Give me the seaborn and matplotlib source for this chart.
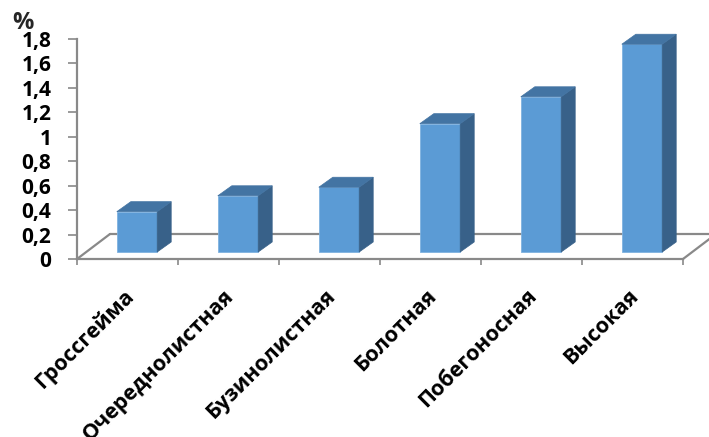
import matplotlib
matplotlib.use("Agg")
import matplotlib.pyplot as plt
from matplotlib.patches import Polygon
from matplotlib.lines import Line2D
from matplotlib.transforms import IdentityTransform, offset_copy, ScaledTranslation
import numpy as np
import pandas as pd
import seaborn as sns

categories = ["Гроссгейма", "Очереднолистная", "Бузинолистная", "Болотная", "Побегоносная", "Высокая"]
values = [0.33, 0.46, 0.53, 1.05, 1.27, 1.70]
y_ticks = [0, 0.2, 0.4, 0.6, 0.8, 1.0, 1.2, 1.4, 1.6, 1.8]
y_tick_labels = ["0", "0,2", "0,4", "0,6", "0,8", "1", "1,2", "1,4", "1,6", "1,8"]
unit_label = "%"

FRONT = "#5B9BD5"
TOP = "#4374A3"
SIDE = "#386189"
GRAY = "#898989"

sns.set_theme(style="white")
plt.rcParams["font.family"] = ["Open Sans", "DejaVu Sans"]

W, H = 709, 437
fig = plt.figure(figsize=(W / 100, H / 100), dpi=100)
ax = fig.add_axes([77 / W, (H - 259) / H, 606 / W, 220 / H])

df = pd.DataFrame({"cat": categories, "val": values})
sns.barplot(data=df, x="cat", y="val", color=FRONT, saturation=1, width=0.4, ax=ax,
            edgecolor="#7FB2E0", linewidth=0.6, zorder=3)
ax.set_xlim(-0.5, 5.5)
ax.set_ylim(0, 1.8)
ax.set_xlabel("")
ax.set_ylabel("")

# 3D look: bar placement inside the floor depth and bar depth (pixels)
off_x, off_y = 9.5, 7.0
dep_x, dep_y = 14.0, 10.0
floor_x, floor_y = 33.0, 25.0

fig.canvas.draw()
for p in list(ax.patches):
    x0, w, h = p.get_x(), p.get_width(), p.get_height()
    (ax0, ay0), (ax1, ay1) = ax.transData.transform([(x0, 0), (x0 + w, h)])
    ax0 += off_x; ax1 += off_x; ay0 += off_y; ay1 += off_y
    p.set_transform(offset_copy(ax.transData, fig=fig, x=off_x, y=off_y, units="dots"))
    p.set_clip_on(False)
    side = Polygon([(ax1, ay0), (ax1 + dep_x, ay0 + dep_y), (ax1 + dep_x, ay1 + dep_y), (ax1, ay1)],
                   closed=True, facecolor=SIDE, edgecolor=SIDE, linewidth=0.5,
                   transform=IdentityTransform(), clip_on=False, zorder=3)
    top = Polygon([(ax0, ay1), (ax1, ay1), (ax1 + dep_x, ay1 + dep_y), (ax0 + dep_x, ay1 + dep_y)],
                  closed=True, facecolor=TOP, edgecolor=TOP, linewidth=0.5,
                  transform=IdentityTransform(), clip_on=False, zorder=3)
    ax.add_patch(side)
    ax.add_patch(top)

# floor outline
(fl_x0, fl_y), (fl_x1, _) = ax.transData.transform([(-0.5, 0), (5.5, 0)])
for xs, ys in [
    ([fl_x0, fl_x0 + floor_x], [fl_y, fl_y + floor_y]),
    ([fl_x0 + floor_x, fl_x1 + floor_x], [fl_y + floor_y, fl_y + floor_y]),
    ([fl_x1, fl_x1 + floor_x], [fl_y, fl_y + floor_y]),
]:
    ax.add_line(Line2D(xs, ys, color=GRAY, linewidth=1.6, transform=IdentityTransform(),
                       clip_on=False, zorder=1))

for s in ["top", "right"]:
    ax.spines[s].set_visible(False)
for s in ["left", "bottom"]:
    ax.spines[s].set_color(GRAY)
    ax.spines[s].set_linewidth(1.6)

ax.set_yticks(y_ticks)
ax.set_yticklabels(y_tick_labels, fontsize=15, fontweight="bold", color="black")
ax.tick_params(axis="y", left=True, direction="out", length=6.5, width=1.2, color=GRAY, pad=12)

ax.set_xticks(range(len(categories)))
ax.set_xticklabels(categories, rotation=45, ha="right", rotation_mode="anchor",
                   fontsize=15.5, fontweight="bold", color="black")
ax.set_xticks(np.arange(-0.5, len(categories), 1.0), minor=True)
ax.tick_params(axis="x", which="major", bottom=True, length=0, pad=19)
ax.tick_params(axis="x", which="minor", bottom=True, direction="out", length=4.5, width=1.2, color=GRAY)
shift = ScaledTranslation(-5 / 100, 0, fig.dpi_scale_trans)
for lbl in ax.get_xticklabels():
    lbl.set_transform(lbl.get_transform() + shift)

fig.text(23 / W, 1 - 23 / H, unit_label, ha="center", va="center", fontsize=17, fontweight="bold")

fig.savefig("out.png", dpi=100)
